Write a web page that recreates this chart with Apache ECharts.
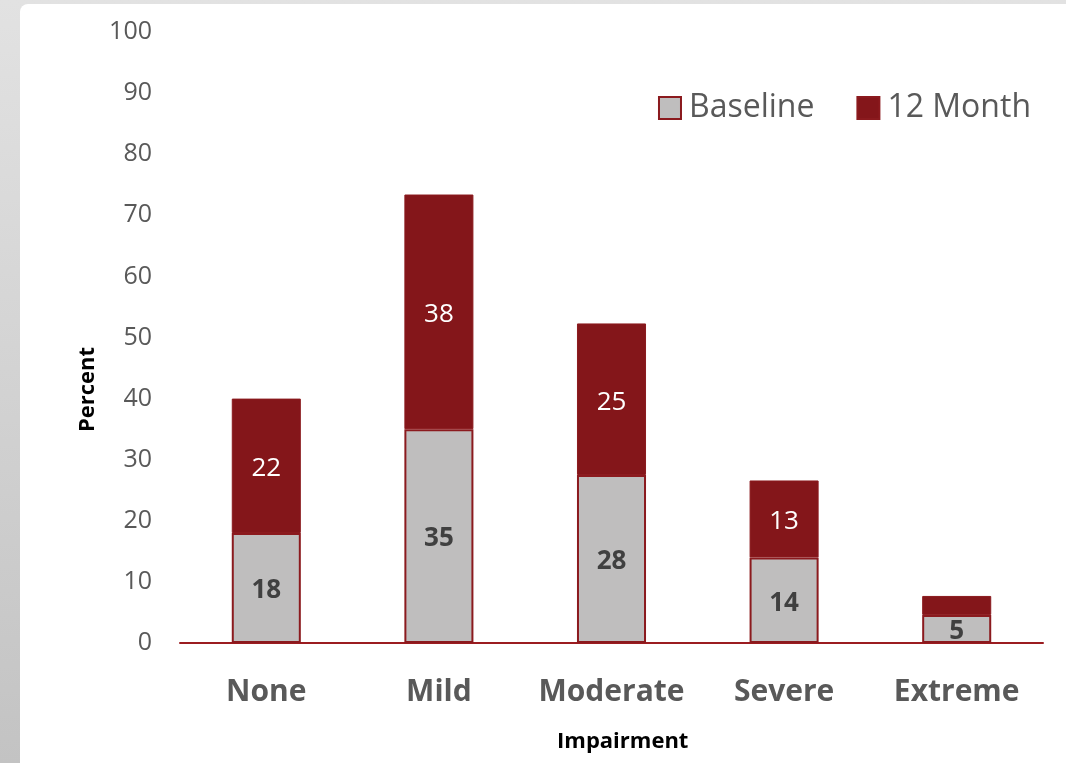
<!DOCTYPE html>
<html>
<head>
<meta charset="utf-8">
<script src="https://cdn.jsdelivr.net/npm/echarts@6/dist/echarts.min.js"></script>
<style>
  html, body { margin: 0; padding: 0; width: 1066px; height: 763px; overflow: hidden; }
  body { background: linear-gradient(to bottom, #e2e2e2, #c3c3c3); position: relative; }
  #panel { position: absolute; left: 20px; top: 4px; width: 1046px; height: 759px; background: #fff; border-top-left-radius: 8px; }
  #chart { position: absolute; left: 0; top: 0; width: 1066px; height: 763px; }
</style>
</head>
<body>
<div id="panel"></div>
<div id="chart"></div>
<script>
const categories = ['None', 'Mild', 'Moderate', 'Severe', 'Extreme'];
const baseline = [18, 35, 27.5, 14, 4.6];
const month12 = [22, 38.4, 24.8, 12.6, 3.1];
const yTicks = [0, 10, 20, 30, 40, 50, 60, 70, 80, 90, 100];

const FONT = '"Open Sans", "Noto Sans", sans-serif';
const RED = '#84161a';
const chart = echarts.init(document.getElementById('chart'), null, { renderer: 'canvas' });
chart.setOption({
  backgroundColor: 'transparent',
  textStyle: { fontFamily: FONT },
  grid: { left: 180, right: 23, top: 32, bottom: 120 },
  legend: {
    right: 30, top: 87,
    icon: 'rect',
    itemWidth: 22, itemHeight: 22, itemGap: 42,
    textStyle: { fontSize: 32, color: '#595959', fontFamily: FONT, padding: [0, 0, 0, 3] },
    data: ['Baseline', '12 Month']
  },
  xAxis: {
    type: 'category',
    data: categories,
    axisLine: { lineStyle: { color: '#9b1c20', width: 2 } },
    axisTick: { show: false },
    axisLabel: { interval: 0, fontSize: 30, fontWeight: 'bold', color: '#595959', margin: 34, fontFamily: FONT }
  },
  yAxis: {
    type: 'value',
    min: yTicks[0], max: yTicks[yTicks.length - 1], interval: 10,
    axisLine: { show: false },
    axisTick: { show: false },
    splitLine: { show: false },
    axisLabel: { fontSize: 25, color: '#595959', margin: 28, fontFamily: FONT }
  },
  graphic: [
    { type: 'text', left: 557, top: 731, style: { text: 'Impairment', font: 'bold 22px ' + FONT, fill: '#000' } },
    { type: 'text', x: 77, y: 432, rotation: Math.PI / 2, style: { text: 'Percent', font: 'bold 22px ' + FONT, fill: '#000' } }
  ],
  series: [
    {
      name: 'Baseline', type: 'bar', stack: 'total', barWidth: '40%',
      data: baseline,
      itemStyle: { color: '#bfbebe', borderColor: '#8b1a1e', borderWidth: 2 },
      label: { show: true, position: 'inside', offset: [0, 3], fontSize: 26, fontWeight: 'bold', color: '#404040', fontFamily: FONT,
        formatter: p => String(Math.round(p.value)) }
    },
    {
      name: '12 Month', type: 'bar', stack: 'total', barWidth: '40%',
      data: month12,
      itemStyle: { color: RED, borderColor: '#8b1a1e', borderWidth: 1 },
      label: { show: true, position: 'inside', offset: [0, 3], fontSize: 26, color: '#ffffff', fontFamily: FONT,
        formatter: p => p.value < 4 ? '' : String(Math.round(p.value)) }
    }
  ]
});
</script>
</body>
</html>
